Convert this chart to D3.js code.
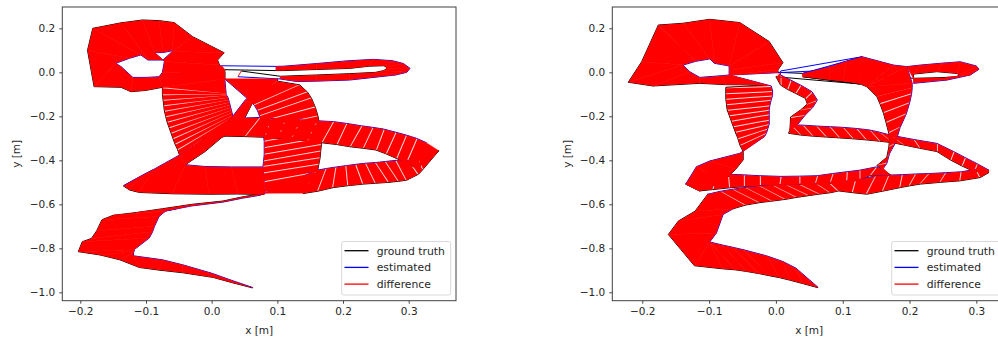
<!DOCTYPE html>
<html><head><meta charset="utf-8">
<script src="https://cdn.jsdelivr.net/npm/d3@7"></script>
<style>html,body{margin:0;padding:0;background:#fff;overflow:hidden}svg{display:block}text{font-family:"DejaVu Sans";fill:#262626}</style>
</head><body><svg id="c" width="998" height="338"></svg>
<script>
const xTickValues=[-0.2,-0.1,0,0.1,0.2,0.3];
const yTickValues=[0.2,0,-0.2,-0.4,-0.6,-0.8,-1.0];
const legendLabels=["ground truth","estimated","difference"];
const axisLabels=["x [m]","y [m]"];
// rows: ground truth x, ground truth y, estimated x, estimated y
const a1Tail=[[.0625,-.98,.0625,-.978],[.03,-.955,.03,-.945],[.002,-.932,0,-.913],[-.044,-.911,-.044,-.875],[-.08,-.899,-.075,-.852],[-.11,-.887,-.119,-.834],[-.14,-.852,-.119,-.82],[-.17,-.83,-.118,-.812]];
const a1Rise=[[-.203,-.815,-.118,-.806],[-.197,-.77,-.095,-.753],[-.183,-.755,-.09,-.725],[-.175,-.72,-.087,-.7],[-.167,-.67,-.08,-.655],[-.15,-.65,-.07,-.63],[-.114,-.637,-.05,-.617],[-.075,-.62,-.07,-.63],[-.03,-.6,-.03,-.607],[.017,-.585,.017,-.59],[.047,-.566,.047,-.572],[.072,-.553,.075,-.558]];
const a1LowerLeft=[[.08,-.555,.078,-.43],[.04,-.553,.03,-.43],[-.004,-.554,-.01,-.428],[-.06,-.552,-.04,-.42],[-.11,-.546,-.09,-.444],[-.125,-.535,-.11,-.475],[-.134,-.517,-.134,-.515]];
const a1Diag=[[-.09,-.47,-.09,-.444],[-.04,-.42,-.049,-.376],[-.01,-.36,-.02,-.32],[.017,-.292,0,-.27],[.04,-.27,.029,-.21],[.05,-.21,.032,-.2],[.062,-.14,.05,-.13],[.08,-.09,.06,-.1],[.1,-.03,.02,-.03]];
const a1Right=[[.1,-.04,.057,-.126],[.134,-.057,.065,-.15],[.146,-.09,.07,-.175],[.152,-.118,.073,-.2],[.158,-.16,.076,-.225],[.162,-.2,.078,-.255],[.164,-.235,.079,-.285],[.166,-.27,.08,-.315],[.167,-.3,.08,-.345],[.167,-.33,.08,-.375],[.166,-.36,.079,-.405],[.165,-.39,.078,-.43],[.163,-.42,.079,-.46],[.161,-.455,.08,-.5],[.155,-.5,.08,-.55],[.14,-.55,.08,-.55]];
const a1LowerRight=[[.139,-.551,.16,-.445],[.162,-.54,.175,-.437],[.185,-.524,.19,-.43],[.208,-.515,.205,-.424],[.231,-.508,.22,-.418],[.25,-.504,.235,-.413],[.27,-.5,.25,-.41],[.285,-.495,.265,-.405],[.297,-.49,.281,-.4],[.315,-.463,.3,-.4],[.322,-.44,.312,-.37],[.346,-.356,.327,-.32]];
const a1Mid=[[.312,-.437,.327,-.32],[.296,-.41,.312,-.3],[.281,-.391,.296,-.285],[.265,-.37,.28,-.272],[.25,-.353,.262,-.258],[.23,-.345,.245,-.25],[.21,-.338,.228,-.243],[.19,-.328,.205,-.232],[.167,-.32,.185,-.224],[.145,-.312,.16,-.22],[.12,-.305,.135,-.216],[.1,-.3,.112,-.213],[.08,-.295,.09,-.21],[.05,-.292,.073,-.205],[.02,-.29,.03,-.21]];
const a1Left=[[-.049,-.376,.03,-.215],[-.052,-.35,.031,-.205],[-.056,-.325,.032,-.195],[-.059,-.3,.031,-.183],[-.062,-.275,.03,-.172],[-.065,-.25,.029,-.16],[-.068,-.225,.028,-.148],[-.07,-.2,.027,-.137],[-.072,-.175,.026,-.126],[-.073,-.15,.025,-.115],[-.074,-.125,.023,-.105],[-.075,-.1,.022,-.1],[-.075,-.068,.022,-.096]];
const a1Blob=[[-.075,-.068,.02,-.03],[-.075,-.068,-.08,-.02],[-.1,-.082,-.1,-.023],[-.123,-.088,-.12,-.023],[-.138,-.068,-.138,.026],[-.179,-.065,-.146,.041],[-.189,.1,-.125,.064],[-.181,.2,-.108,.079],[-.138,.225,-.097,.056],[-.087,.089,-.074,.056],[-.138,.225,-.087,.089],[-.105,.238,-.087,.089],[-.08,.235,-.074,.09],[-.057,.226,-.06,.098],[-.029,.162,-.058,.098],[.019,.089,-.06,.095],[.009,.056,-.074,.056],[.012,.033,-.072,.049],[.02,0,-.075,0],[.02,-.03,-.08,-.02],[.02,.012,.015,.03]];
const a1Loop=[[.098,.008,.098,.027],[.11,.008,.11,.028],[.16,.013,.16,.04],[.21,.018,.205,.052],[.24,.028,.246,.059],[.262,.03,.275,.053],[.266,.024,.292,.04],[.266,.016,.302,.018],[.262,.008,.297,0],[.25,0,.28,-.012],[.21,-.006,.21,-.035],[.16,-.012,.16,-.04],[.13,-.015,.13,-.042],[.105,-.018,.104,-.03]];
const a1End=[[.045,.006,.04,-.02]];
const a2Tail=[[.063,-.979,.063,-.977],[.04,-.96,.03,-.89],[.02,-.944,.0105,-.86],[.005,-.933,-.014,-.834],[-.009,-.925,-.049,-.806],[-.025,-.915,-.065,-.795],[-.044,-.905,-.08,-.785],[-.06,-.898,-.099,-.771],[-.08,-.893,-.099,-.771],[-.122,-.879,-.099,-.771]];
const a2Rise=[[-.161,-.737,-.089,-.73],[-.146,-.676,-.079,-.646],[-.121,-.631,-.064,-.62],[-.102,-.554,-.064,-.62]];
const a2StripB=[[-.064,-.62,-.102,-.554],[-.045,-.603,-.082,-.54],[-.024,-.592,-.064,-.531],[-.005,-.585,-.045,-.523],[.015,-.577,-.024,-.516],[.032,-.568,-.005,-.512],[.05,-.56,.015,-.51],[.066,-.553,.035,-.508],[.082,-.547,.06,-.504],[.094,-.539,.08,-.5],[.115,-.547,.12,-.49],[.136,-.554,.15,-.47],[.16,-.54,.17,-.467],[.186,-.524,.19,-.465],[.2,-.516,.21,-.462],[.216,-.508,.23,-.46],[.246,-.5,.255,-.456],[.276,-.493,.278,-.452],[.306,-.478,.3,-.44],[.319,-.455,.319,-.445]];
const a2BandC=[[.296,-.45,.301,-.415],[.278,-.425,.283,-.387],[.261,-.398,.266,-.36],[.241,-.36,.241,-.323],[.215,-.345,.206,-.305],[.191,-.33,.171,-.285],[.175,-.32,.155,-.272],[.155,-.313,.14,-.262],[.135,-.307,.12,-.255],[.115,-.302,.1,-.25],[.095,-.298,.08,-.247],[.075,-.294,.06,-.244],[.055,-.29,.04,-.24],[.037,-.285,.022,-.239],[.019,-.277,.022,-.239]];
const a2Squiggle=[[.021,-.263,.032,-.239],[.022,-.203,.044,-.194],[.037,-.171,.055,-.16],[.047,-.144,.062,-.126],[.044,-.118,.054,-.088],[.029,-.095,.037,-.058],[.017,-.077,.022,-.035],[.007,-.058,.007,-.012],[0,-.02,.007,.006]];
const a2Top=[[.126,-.053,.129,.071]];
const a2Wedge=[[.04,-.02,.04,-.005],[.08,-.035,.08,.025],[.101,-.042,.105,.05],[.126,-.053,.129,.071],[.136,-.065,.176,.033],[.136,-.065,.196,.026],[.136,-.065,.204,-.05]];
const a2Vertical=[[.151,-.11,.204,-.07],[.156,-.145,.203,-.1],[.161,-.186,.2,-.14],[.165,-.23,.195,-.19],[.169,-.277,.186,-.25],[.17,-.31,.182,-.29],[.169,-.34,.178,-.325],[.166,-.386,.17,-.37],[.151,-.424,.166,-.414]];
const a2StripA=[[.172,-.467,.16,-.44],[.14,-.47,.15,-.43],[.125,-.49,.125,-.445],[.105,-.498,.106,-.452],[.08,-.505,.085,-.46],[.058,-.508,.0617,-.47],[.035,-.51,.035,-.472],[.005,-.512,.007,-.473],[-.024,-.515,-.024,-.47],[-.048,-.52,-.048,-.466],[-.07,-.525,-.072,-.463],[-.095,-.533,-.09,-.46],[-.114,-.539,-.105,-.46],[-.135,-.508,-.117,-.463]];
const a2Diag=[[-.114,-.539,-.135,-.508],[-.08,-.5,-.119,-.429],[-.06,-.44,-.099,-.403],[-.049,-.398,-.054,-.368]];
const a2Left=[[-.049,-.36,-.017,-.292],[-.054,-.33,-.014,-.275],[-.057,-.3,-.012,-.255],[-.061,-.27,-.01,-.235],[-.064,-.245,-.01,-.215],[-.067,-.22,-.01,-.19],[-.07,-.195,-.01,-.17],[-.073,-.17,-.009,-.15],[-.074,-.145,-.007,-.125],[-.075,-.12,-.005,-.105],[-.075,-.095,-.005,-.085],[-.075,-.068,-.007,-.062]];
const a2Blob=[[-.014,-.058,-.07,-.012],[-.075,-.056,-.08,-.015],[-.114,-.05,-.114,-.023],[-.184,-.062,-.129,.003],[-.221,-.045,-.139,.033],[-.201,.048,-.139,.033],[-.176,.215,-.12,.05],[-.139,.223,-.099,.061],[-.099,.241,-.092,.041],[-.054,.226,-.07,.029],[-.01,.14,-.07,.029],[.0105,.044,-.07,.01],[.003,.011,-.07,-.012],[.003,0,-.07,-.012]];
const a2Loop=[[.206,-.027,.196,.026],[.206,-.008,.216,.033],[.241,.003,.25,.042],[.271,-.005,.276,.048],[.275,-.012,.3,.029],[.27,-.02,.304,.014],[.255,-.023,.291,-.012],[.235,-.025,.256,-.035],[.206,-.027,.206,-.05]];

const track1=[a1Tail,a1Rise,a1LowerLeft,a1Diag,a1Right,a1LowerRight,a1Mid,a1Left,a1Blob,a1Loop,a1End];
const hatched1=[a1Right,a1LowerRight,a1Mid,a1Left];
const jumps1=[a1Blob,a1Loop];
const track2=[a2Tail,a2Rise,a2StripB,a2BandC,a2Squiggle,a2Top,a2Wedge,a2Vertical,a2StripA,a2Diag,a2Left,a2Blob,a2Loop];
const hatched2=[a2StripB,a2BandC,a2Squiggle,a2Vertical,a2StripA,a2Left];
const jumps2=[a2Squiggle,a2Top,a2Blob];

const svg=d3.select("#c");
const FS=10.5, LFS=10.8;
function panel(o){
  const x=d3.scaleLinear().domain(o.xd).range([o.l,o.r]);
  const y=d3.scaleLinear().domain(o.yd).range([o.b,o.t]);
  const g=svg.append("g");
  const rows=[],flag=[],stop=[];
  o.legs.forEach(l=>l.forEach((r,i)=>{rows.push(r);flag.push(o.hatched.includes(l));stop.push(o.jumps.includes(l)&&i==l.length-1);}));
  const gtLine=d3.line().x(r=>x(r[0])).y(r=>y(r[1]));
  const estLine=d3.line().x(r=>x(r[2])).y(r=>y(r[3]));
  g.append("path").attr("d",gtLine(rows)).attr("fill","none").attr("stroke","#000").attr("stroke-width",1);
  g.append("path").attr("d",estLine(rows)).attr("fill","none").attr("stroke","#0000ff").attr("stroke-width",1);
  const red=g.append("g");
  rows.forEach((r,i)=>{
    const a=[x(r[0]),y(r[1])],b=[x(r[2]),y(r[3])];
    red.append("line").attr("x1",a[0]).attr("y1",a[1]).attr("x2",b[0]).attr("y2",b[1]).attr("stroke","#ff0000").attr("stroke-width",flag[i]?.3:.9);
    if(i==rows.length-1||stop[i])return;
    const s=rows[i+1];
    let c=[x(s[0]),y(s[1])],e=[x(s[2]),y(s[3])];
    if(flag[i]&&flag[i+1]){
      const shrink=(p,q)=>{const L=Math.hypot(q[0]-p[0],q[1]-p[1]);const t=L>3?1-1/L:1;return[p[0]+(q[0]-p[0])*t,p[1]+(q[1]-p[1])*t];};
      c=shrink(a,c);e=shrink(b,e);
    }
    red.append("path").attr("d",d3.line()([a,b,e,c])+"Z").attr("fill","#ff0000").attr("stroke","none");
  });
  const fmt=d=>d3.format(".1f")(d).replace("-","\u2212");
  const ax=g.append("g").attr("transform",`translate(0,${o.b})`).call(d3.axisBottom(x).tickValues(xTickValues).tickSize(3).tickPadding(4).tickFormat(fmt));
  const ay=g.append("g").attr("transform",`translate(${o.l},0)`).call(d3.axisLeft(y).tickValues(yTickValues).tickSize(3).tickPadding(4).tickFormat(fmt));
  [ax,ay].forEach(s=>{s.selectAll("text").attr("font-size",FS).attr("font-family","DejaVu Sans").attr("fill","#262626");s.selectAll("line").attr("stroke","#444");s.select(".domain").remove();});
  g.append("rect").attr("x",o.l).attr("y",o.t).attr("width",o.r-o.l).attr("height",o.b-o.t).attr("fill","none").attr("stroke","#404040").attr("stroke-width",1);
  g.append("text").attr("x",(o.l+o.r)/2).attr("y",334).attr("text-anchor","middle").attr("font-size",FS).text(axisLabels[0]);
  g.append("text").attr("transform",`translate(${o.yl},${(o.t+o.b)/2}) rotate(-90)`).attr("text-anchor","middle").attr("font-size",FS).text(axisLabels[1]);
  const lg=g.append("g").attr("transform",`translate(${o.lx},241.5)`);
  lg.append("rect").attr("width",109).attr("height",53.5).attr("rx",2).attr("fill","#fff").attr("fill-opacity",.85).attr("stroke","#d8d8d8").attr("stroke-width",1);
  ["#000","#0000ff","#ff0000"].forEach((col,i)=>{
    const yy=9.2+i*16.7;
    lg.append("line").attr("x1",2.8).attr("x2",26.8).attr("y1",yy).attr("y2",yy).attr("stroke",col).attr("stroke-width",1.3);
    lg.append("text").attr("x",35).attr("y",yy+3.8).attr("font-size",LFS).text(legendLabels[i]);
  });
}
panel({l:62.3,r:456,t:7,b:300.7,xd:[-.2274,.372],yd:[-1.038,.297],legs:track1,hatched:hatched1,jumps:jumps1,yl:20,lx:341.7});
panel({l:612.3,r:1006,t:7,b:300.7,xd:[-.2449,.3444],yd:[-1.038,.297],legs:track2,hatched:hatched2,jumps:jumps2,yl:571,lx:891.7});
</script></body></html>
